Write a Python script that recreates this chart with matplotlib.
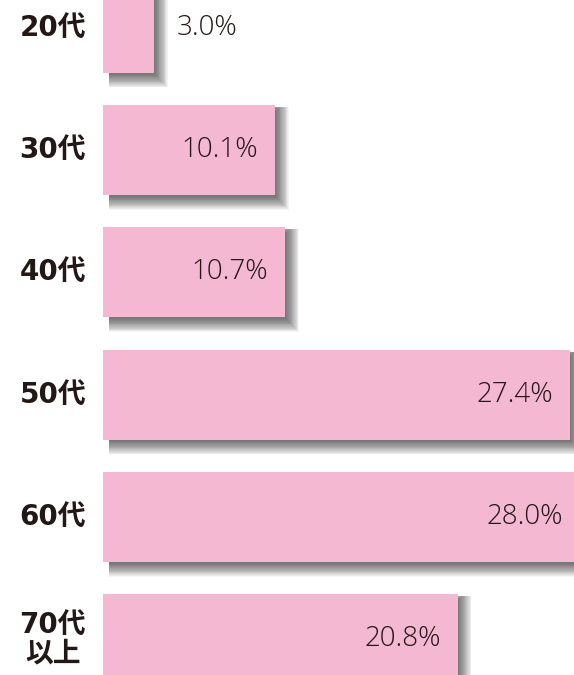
import matplotlib
matplotlib.use("Agg")
import matplotlib.pyplot as plt
import numpy as np

# data
ages = ["20代", "30代", "40代", "50代", "60代", "70代\n以上"]
shares = [3.0, 10.1, 10.7, 27.4, 28.0, 20.8]

BAR = "#F4B8D3"
INK = "#231815"
PX_X = 17.05   # pixels per percent
PX_Y = 122.3   # pixels per category step

fig = plt.figure(figsize=(5.74, 6.75), dpi=100)
ax = fig.add_axes([0, 0, 1, 1])
ax.set_xlim(-103 / PX_X, 471 / PX_X)
ax.set_ylim((675 - 27.7) / PX_Y, -27.7 / PX_Y)
ax.axis("off")

ypos = np.arange(len(ages))
h = 0.736
vals = np.array(shares)

# soft drop shadow: stacked translucent bars, each a bit larger (px offsets)
for k in range(16):
    e = k * 0.85
    t = max(6 - e, 2)      # top inset
    b = e + 2              # bottom reach
    r = e + 1              # right reach
    ax.barh(ypos + (b + t) / 2 / PX_Y, vals + (r - 6) / PX_X,
            height=h + (b - t) / PX_Y, left=6 / PX_X,
            color="black", alpha=0.045, lw=0, zorder=1)

ax.barh(ypos, vals, height=h, color=BAR, lw=0, zorder=3)

for y, lab, v in zip(ypos, ages, vals):
    ax.text(-2.95, y, lab, ha="center", va="center", fontsize=20,
            fontweight="bold", color=INK, linespacing=1.0,
            family=["DejaVu Sans", "Noto Sans CJK JP"], zorder=4)
    if v < 5:
        ax.text(v + 1.35, y, f"{v:.1f}%", ha="left", va="center", fontsize=20,
                color=INK, fontweight=300, family=["Open Sans"], zorder=4)
    else:
        ax.text(v - 1.0, y, f"{v:.1f}%", ha="right", va="center", fontsize=20,
                color=INK, fontweight=300, family=["Open Sans"], zorder=4)

fig.savefig("out.png", dpi=100)
